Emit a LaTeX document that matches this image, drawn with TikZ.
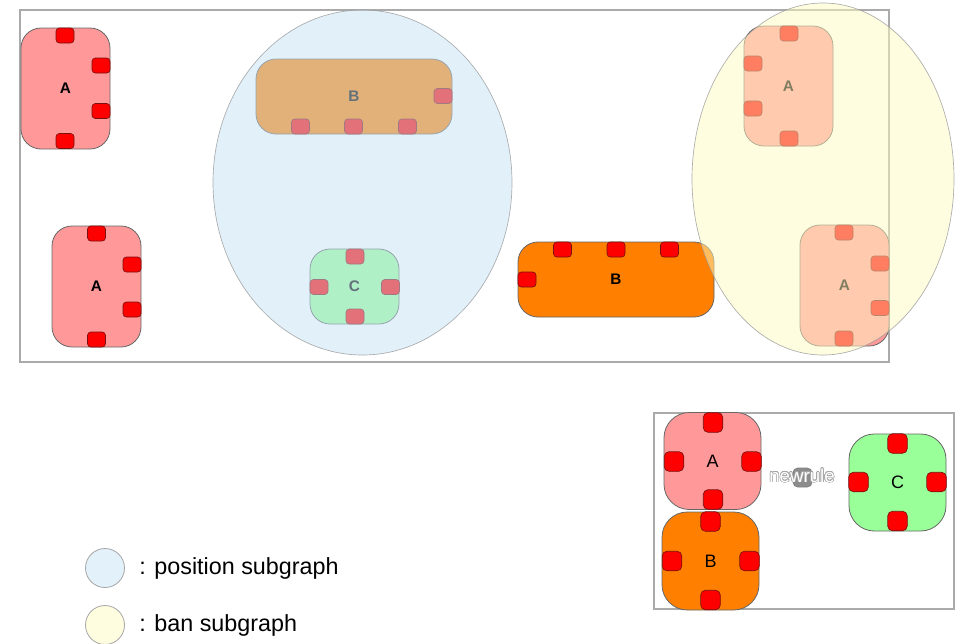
\documentclass[tikz,border=0pt]{standalone}
\usepackage{fontspec}
\setmainfont{Liberation Sans}
\usepackage{contour}
\contourlength{0.45pt}
\usetikzlibrary{shapes.geometric}
\definecolor{apink}{HTML}{FF9999}
\definecolor{borange}{HTML}{FF8000}
\definecolor{cgreen}{HTML}{99FF99}
\definecolor{portred}{HTML}{FF0000}
\definecolor{portline}{HTML}{7A1010}
\definecolor{posfill}{RGB}{198,226,245}
\definecolor{banfill}{RGB}{255,251,193}
\definecolor{poslegend}{RGB}{227,241,250}
\definecolor{banlegend}{RGB}{255,253,224}
\definecolor{framegray}{HTML}{AAAAAA}
\begin{document}
\begin{tikzpicture}[x=0.75pt,y=-0.75pt,
  sz/.style 2 args={minimum width={#1*0.75pt},minimum height={#2*0.75pt}},
  typebox/.style={draw=black!60, line width=0.6pt, inner sep=0pt, rounded corners=15pt,
    font=\fontsize{11.5}{13}\selectfont\bfseries},
  bigbox/.style={draw=black!60, line width=0.6pt, inner sep=0pt, rounded corners=19pt,
    font=\fontsize{13.5}{15}\selectfont, sz={97}{97}},
  portbox/.style={draw=portline, fill=portred, line width=0.5pt, inner sep=0pt,
    sz={18}{15}, rounded corners=2.5pt},
  bigport/.style={draw=portline, fill=portred, line width=0.5pt, inner sep=0pt,
    sz={19.5}{19.5}, rounded corners=3.5pt},
  group/.style={ellipse, draw=black!40, line width=0.5pt, inner sep=0pt, fill opacity=0.5, draw opacity=0.8},
  framebox/.style={draw=framegray, line width=0.8pt, inner sep=0pt},
  legendtext/.style={anchor=west, inner sep=0pt, font=\fontsize{17.5}{20}\selectfont}
]
\useasboundingbox (0,0) rectangle (967,643);

% main frame
\node[framebox, sz={869}{352}] (frame) at (454.5,186) {};

% A1
\node[typebox, fill=apink, sz={89}{121}] (a1) at (65.5,88.5) {A};
\node[portbox] (a1t) at (65,35.5) {};
\node[portbox] (a1r1) at (101,65.5) {};
\node[portbox] (a1r2) at (101,111) {};
\node[portbox] (a1b) at (65,141) {};

% A2
\node[typebox, fill=apink, sz={89}{121}] (a2) at (96.5,286.5) {A};
\node[portbox] (a2t) at (96.5,233.5) {};
\node[portbox] (a2r1) at (132,264.5) {};
\node[portbox] (a2r2) at (132,309.5) {};
\node[portbox] (a2b) at (96.5,339.5) {};

% B1 (inside position subgraph)
\node[typebox, fill=borange, sz={196}{75}] (b1) at (354,96.5) {B};
\node[portbox] (b1r) at (443,96) {};
\node[portbox] (b1b1) at (300.5,126.5) {};
\node[portbox] (b1b2) at (353.5,126.5) {};
\node[portbox] (b1b3) at (407.5,126.5) {};

% C1
\node[typebox, fill=cgreen, sz={89}{75}] (c1) at (354.5,286.5) {C};
\node[portbox] (c1t) at (355,256.5) {};
\node[portbox] (c1l) at (319,287) {};
\node[portbox] (c1r) at (390.5,287) {};
\node[portbox] (c1b) at (355,316.5) {};

% B2
\node[typebox, fill=borange, sz={196}{75}] (b2) at (616,279.5) {B};
\node[portbox] (b2t1) at (562.5,249.5) {};
\node[portbox] (b2t2) at (616,249.5) {};
\node[portbox] (b2t3) at (669.5,249.5) {};
\node[portbox] (b2l) at (527,279.5) {};

% A3 (inside ban subgraph)
\node[typebox, fill=apink, sz={89}{120}] (a3) at (788.5,86) {A};
\node[portbox] (a3t) at (789,33.5) {};
\node[portbox] (a3l1) at (753,63.5) {};
\node[portbox] (a3l2) at (753,108.5) {};
\node[portbox] (a3b) at (789,138.5) {};

% A4
\node[typebox, fill=apink, sz={89}{121}] (a4) at (844.5,285.5) {A};
\node[portbox] (a4t) at (844,232.5) {};
\node[portbox] (a4r1) at (880,263.5) {};
\node[portbox] (a4r2) at (880,308) {};
\node[portbox] (a4b) at (844,338.5) {};

% subgraph ellipses
\node[group, fill=posfill, sz={299}{345}] (pos) at (362.5,182.5) {};
\node[group, fill=banfill, sz={262}{352}] (ban) at (823,179) {};

% legend
\node[circle, draw=black!35, line width=0.6pt, fill=poslegend, sz={39}{39}] (legpos) at (105,568) {};
\node[legendtext] (legpostext) at (139,568) {: position subgraph};
\node[circle, draw=black!35, line width=0.6pt, fill=banlegend, sz={39}{39}] (legban) at (105,625) {};
\node[legendtext] (legbantext) at (139,625) {: ban subgraph};

% new rule box
\node[framebox, sz={300}{196}] (ruleframe) at (804,511) {};
\node[bigbox, fill=apink] (a5) at (712.5,461) {A};
\node[bigport] (a5t) at (713,422.5) {};
\node[bigport] (a5l) at (674,461.5) {};
\node[bigport] (a5r) at (751.5,461.5) {};
\node[bigport] (a5b) at (713,499.5) {};

\node[bigbox, fill=borange, sz={97}{98}] (b5) at (710.5,561) {B};
\node[bigport] (b5t) at (710.5,521.5) {};
\node[bigport] (b5l) at (672,561) {};
\node[bigport] (b5r) at (749.5,561) {};
\node[bigport] (b5b) at (710.5,600) {};

\node[bigbox, fill=cgreen] (c5) at (897.5,482.5) {C};
\node[bigport] (c5t) at (897.5,443.5) {};
\node[bigport] (c5l) at (858.5,482) {};
\node[bigport] (c5r) at (936.5,482) {};
\node[bigport] (c5b) at (897.5,521) {};

\node[draw=black!50, fill=black!45, line width=0.5pt, inner sep=0pt, sz={19}{19}, rounded corners=3.5pt] (nr) at (802.5,477.5) {};
\node[inner sep=0pt, font=\fontsize{14}{16}\selectfont] (nrtext) at (802,476) {\contour{black!35}{\textcolor{white}{newrule}}};
\end{tikzpicture}
\end{document}
